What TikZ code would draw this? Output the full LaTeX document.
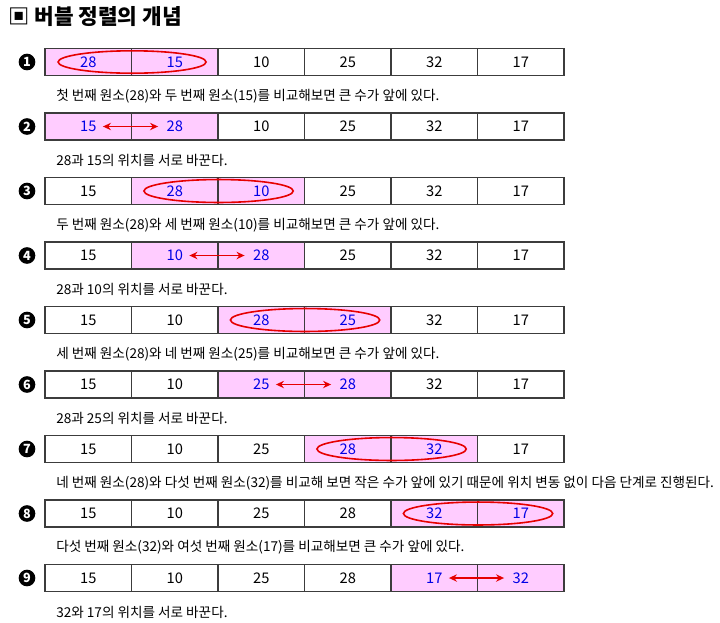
\documentclass[tikz,border=0pt]{standalone}
\usepackage{fontspec}
\setmainfont{Noto Sans CJK KR}
\usetikzlibrary{arrows.meta}
\definecolor{hlpink}{RGB}{255,204,255}
\definecolor{hlblue}{RGB}{0,0,230}
\definecolor{selred}{RGB}{230,0,0}
\definecolor{cellline}{RGB}{60,60,60}
\tikzset{
  cell/.style={draw=cellline, line width=0.9pt, minimum width=64.875pt, minimum height=20.25pt,
    inner sep=0pt, font=\fontsize{11pt}{12pt}\selectfont, text=black},
  hlcell/.style={cell, fill=hlpink, text=hlblue},
  numc/.style={circle, fill=black, text=white, inner sep=0pt, minimum size=12.5pt,
    font=\bfseries\fontsize{9.5pt}{10pt}\selectfont},
  desc/.style={anchor=west, inner sep=0pt, font=\fontsize{10.2pt}{12pt}\selectfont},
  sel/.style={draw=selred, line width=1.2pt},
  swaparrow/.style={draw=selred, line width=1.3pt, {Stealth[length=6pt,width=5.5pt]}-{Stealth[length=6pt,width=5.5pt]},
    shorten <=11pt, shorten >=12.5pt},
}
\newcommand\bubblerow[4]{%
  \pgfmathsetmacro\ry{62+64.5*(#1-1)}
  \node[numc] (n#1) at (27,\ry) {#1};
  \foreach \v [count=\j] in {#2}{
    \pgfmathtruncatemacro\hl{or(\j==#3,\j==#3+1)}
    \ifnum\hl=1 \def\st{hlcell}\else\def\st{cell}\fi
    \node[\st] (r#1c\j) at ({45+86.5*(\j-0.5)},\ry) {\v};
  }
  \node[desc] (t#1) at (56,\ry+34) {#4};
}
\begin{document}
\begin{tikzpicture}[x=0.75pt,y=-0.75pt]
\useasboundingbox (0,0) rectangle (720,622);
\node[anchor=west, inner sep=0pt, font=\bfseries\fontsize{16pt}{18pt}\selectfont] (title) at (8,17) {▣ 버블 정렬의 개념};

\bubblerow{1}{28,15,10,25,32,17}{1}{첫 번째 원소(28)와 두 번째 원소(15)를 비교해보면 큰 수가 앞에 있다.}
\bubblerow{2}{15,28,10,25,32,17}{1}{28과 15의 위치를 서로 바꾼다.}
\bubblerow{3}{15,28,10,25,32,17}{2}{두 번째 원소(28)와 세 번째 원소(10)를 비교해보면 큰 수가 앞에 있다.}
\bubblerow{4}{15,10,28,25,32,17}{2}{28과 10의 위치를 서로 바꾼다.}
\bubblerow{5}{15,10,28,25,32,17}{3}{세 번째 원소(28)와 네 번째 원소(25)를 비교해보면 큰 수가 앞에 있다.}
\bubblerow{6}{15,10,25,28,32,17}{3}{28과 25의 위치를 서로 바꾼다.}
\bubblerow{7}{15,10,25,28,32,17}{4}{네 번째 원소(28)와 다섯 번째 원소(32)를 비교해 보면 작은 수가 앞에 있기 때문에 위치 변동 없이 다음 단계로 진행된다.}
\bubblerow{8}{15,10,25,28,32,17}{5}{다섯 번째 원소(32)와 여섯 번째 원소(17)를 비교해보면 큰 수가 앞에 있다.}
\bubblerow{9}{15,10,25,28,17,32}{5}{32와 17의 위치를 서로 바꾼다.}

\draw[sel] (r1c1.east) ellipse [x radius=55.5pt, y radius=8.4pt];
\draw[sel] (r3c2.east) ellipse [x radius=56pt, y radius=8.6pt];
\draw[sel] (r5c3.east) ellipse [x radius=56pt, y radius=8.6pt];
\draw[sel] (r7c4.east) ellipse [x radius=56pt, y radius=8.6pt];
\draw[sel] (r8c5.east) ellipse [x radius=56pt, y radius=8.6pt];

\draw[swaparrow] (r2c1.center) -- (r2c2.center);
\draw[swaparrow] (r4c2.center) -- (r4c3.center);
\draw[swaparrow] (r6c3.center) -- (r6c4.center);
\draw[swaparrow] (r9c5.center) -- (r9c6.center);
\end{tikzpicture}
\end{document}
